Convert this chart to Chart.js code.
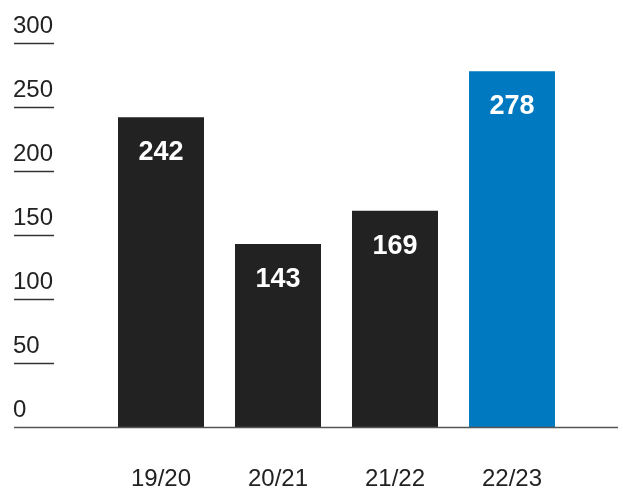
<!DOCTYPE html>
<html>
<head>
<meta charset="utf-8">
<script src="https://cdn.jsdelivr.net/npm/chart.js@4/dist/chart.umd.min.js"></script>
<style>
  html, body { margin: 0; padding: 0; background: #ffffff; }
  #wrap { width: 623px; height: 488px; position: relative; }
</style>
</head>
<body>
<div id="wrap"><canvas id="c"></canvas></div>
<script>
// Seasons and their totals
const seasons = ['19/20', '20/21', '21/22', '22/23'];
const totals = [242, 143, 169, 278];
const barColors = ['#222222', '#222222', '#222222', '#0079c1'];
const yTicks = [0, 50, 100, 150, 200, 250, 300];

const FONT = '"Liberation Sans", Arial, Helvetica, sans-serif';

// Draws the left-hand value scale (label above a short rule), the baseline,
// the season labels and the totals printed inside the top of each bar.
const decorations = {
  id: 'decorations',
  afterDatasetsDraw(chart) {
    const ctx = chart.ctx;
    const y = chart.scales.y;
    const x = chart.scales.x;
    ctx.save();
    ctx.font = '24px ' + FONT;
    ctx.fillStyle = '#222222';
    ctx.textAlign = 'left';
    ctx.textBaseline = 'alphabetic';
    yTicks.forEach(v => {
      const py = Math.round(y.getPixelForValue(v));
      ctx.fillText(String(v), 13, py - 10);
      if (v !== 0) {
        ctx.strokeStyle = '#333333';
        ctx.lineWidth = 1.3;
        ctx.beginPath();
        ctx.moveTo(14, py + 0.5);
        ctx.lineTo(54, py + 0.5);
        ctx.stroke();
      }
    });
    // baseline
    const by = Math.round(y.getPixelForValue(0));
    ctx.strokeStyle = '#555555';
    ctx.lineWidth = 1.6;
    ctx.beginPath();
    ctx.moveTo(14, by + 0.5);
    ctx.lineTo(618, by + 0.5);
    ctx.stroke();

    // season labels
    ctx.textAlign = 'center';
    ctx.font = '24px ' + FONT;
    ctx.fillStyle = '#222222';
    seasons.forEach((s, i) => {
      ctx.fillText(s, x.getPixelForValue(i), 486);
    });

    // values inside bars
    const meta = chart.getDatasetMeta(0);
    ctx.font = 'bold 27px ' + FONT;
    ctx.fillStyle = '#ffffff';
    meta.data.forEach((bar, i) => {
      ctx.fillText(String(totals[i]), bar.x, bar.y + 43);
    });
    ctx.restore();
  }
};

new Chart(document.getElementById('c'), {
  type: 'bar',
  data: {
    labels: seasons,
    datasets: [{
      data: totals,
      backgroundColor: barColors,
      borderWidth: 0,
      categoryPercentage: 1,
      barPercentage: 0.735
    }]
  },
  options: {
    responsive: true,
    maintainAspectRatio: false,
    animation: false,
    layout: { padding: { left: 102.5, right: 52.5, top: 43, bottom: 61 } },
    plugins: {
      legend: { display: false },
      tooltip: { enabled: false }
    },
    scales: {
      x: { display: false },
      y: {
        display: false,
        min: 0,
        max: 300,
        ticks: { stepSize: 50 }
      }
    }
  },
  plugins: [decorations]
});
</script>
</body>
</html>
